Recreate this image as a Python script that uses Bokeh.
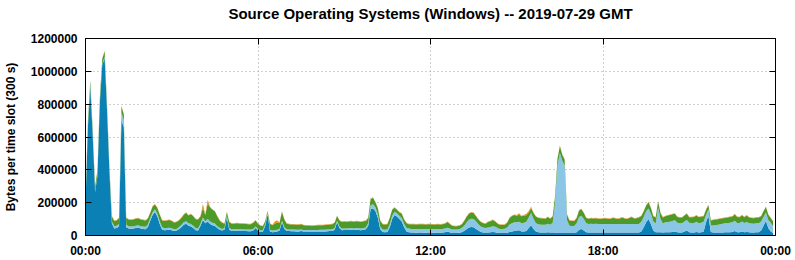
from bokeh.plotting import figure
from bokeh.models import ColumnDataSource, Range1d, LinearAxis, FixedTicker, NumeralTickFormatter
from bokeh.embed import file_html
from bokeh.resources import INLINE

TITLE = "Source Operating Systems (Windows) -- 2019-07-29 GMT"
Y_LABEL = "Bytes per time slot (300 s)"
SLOT_MINUTES = 5

# values in kilobytes per 5-minute slot (288 slots)
dark_blue = [
    190, 660, 905, 610, 265, 365, 810, 1040, 1080, 760, 385, 75, 42, 45, 55, 700, 660, 50, 42, 40, 42, 45, 48, 42,
    40, 38, 50, 90, 125, 143, 115, 70, 35, 32, 33, 35, 32, 28, 30, 38, 50, 65, 72, 60, 55, 45, 32, 30,
    60, 95, 75, 85, 70, 62, 58, 45, 35, 30, 35, 110, 35, 28, 28, 30, 28, 28, 27, 27, 26, 26, 30, 45,
    30, 22, 22, 60, 130, 25, 20, 22, 25, 30, 80, 40, 28, 27, 26, 26, 25, 25, 27, 24, 24, 24, 24, 24,
    24, 24, 25, 25, 25, 26, 27, 28, 35, 80, 45, 32, 33, 33, 34, 35, 33, 35, 34, 32, 35, 38, 60, 160,
    165, 150, 110, 40, 22, 20, 22, 50, 100, 125, 115, 100, 85, 50, 25, 20, 18, 18, 17, 18, 18, 17, 17, 18,
    18, 17, 17, 18, 17, 18, 20, 25, 20, 15, 15, 15, 16, 20, 28, 38, 48, 52, 50, 40, 30, 22, 18, 18,
    18, 20, 22, 20, 17, 15, 15, 15, 17, 22, 25, 28, 30, 32, 25, 25, 28, 45, 62, 40, 25, 20, 18, 18,
    18, 20, 18, 18, 18, 15, 15, 15, 15, 15, 15, 15, 15, 20, 35, 40, 30, 20, 18, 18, 18, 18, 18, 18,
    18, 18, 18, 18, 18, 18, 18, 18, 18, 18, 18, 18, 18, 18, 18, 18, 25, 50, 80, 100, 70, 30, 20, 20,
    20, 18, 20, 20, 20, 22, 25, 20, 18, 18, 25, 30, 20, 18, 18, 22, 18, 20, 25, 80, 120, 22, 18, 18,
    18, 18, 19, 20, 20, 20, 22, 28, 20, 20, 25, 20, 22, 20, 18, 18, 20, 20, 30, 60, 90, 45, 25, 15,
]
light_blue = [
    5, 5, 5, 5, 5, 5, 5, 5, 10, 10, 10, 10, 15, 15, 15, 50, 40, 15, 15, 15, 15, 15, 15, 15,
    15, 15, 15, 15, 17, 17, 17, 15, 15, 12, 12, 12, 12, 10, 10, 12, 14, 15, 15, 15, 15, 15, 14, 12,
    12, 15, 12, 15, 15, 15, 15, 12, 12, 10, 10, 10, 10, 10, 10, 10, 10, 10, 10, 10, 10, 10, 10, 10,
    10, 10, 10, 10, 8, 10, 10, 10, 10, 10, 10, 10, 10, 10, 10, 10, 10, 10, 10, 10, 10, 10, 10, 10,
    10, 10, 10, 10, 10, 10, 10, 10, 10, 10, 10, 10, 10, 10, 10, 10, 10, 10, 10, 10, 10, 10, 15, 25,
    25, 22, 20, 15, 15, 15, 15, 18, 20, 20, 20, 20, 22, 20, 20, 22, 22, 22, 22, 22, 22, 22, 22, 22,
    22, 22, 22, 22, 22, 22, 22, 22, 22, 22, 22, 22, 22, 25, 30, 40, 48, 50, 50, 45, 38, 33, 30, 28,
    30, 32, 35, 33, 28, 25, 25, 26, 32, 45, 50, 52, 50, 52, 50, 52, 55, 65, 75, 60, 50, 48, 48, 48,
    47, 52, 47, 60, 180, 410, 487, 440, 412, 78, 45, 43, 43, 55, 78, 80, 70, 55, 52, 54, 52, 54, 52, 52,
    52, 52, 52, 52, 52, 52, 52, 52, 52, 52, 52, 52, 52, 52, 52, 52, 58, 62, 68, 65, 62, 55, 53, 150,
    80, 55, 60, 62, 64, 66, 68, 58, 56, 56, 60, 65, 57, 57, 58, 62, 57, 58, 58, 45, 40, 40, 43, 45,
    47, 50, 52, 54, 55, 57, 58, 62, 56, 56, 60, 56, 60, 55, 55, 54, 55, 55, 55, 52, 50, 50, 52, 42,
]
green = [
    32, 32, 32, 32, 27, 27, 32, 32, 32, 27, 22, 32, 32, 32, 37, 37, 37, 42, 40, 40, 40, 42, 42, 40,
    39, 39, 37, 32, 35, 29, 35, 42, 42, 45, 47, 47, 45, 41, 42, 42, 43, 47, 52, 47, 60, 57, 53, 55,
    43, 57, 38, 95, 85, 80, 74, 60, 45, 37, 27, 22, 37, 34, 34, 35, 35, 34, 34, 33, 33, 33, 37, 37,
    32, 27, 25, 17, 10, 37, 32, 41, 42, 37, 54, 47, 34, 32, 31, 31, 30, 30, 32, 29, 27, 27, 26, 26,
    27, 28, 28, 28, 29, 29, 30, 31, 32, 29, 37, 40, 42, 40, 41, 42, 41, 42, 41, 40, 42, 41, 32, 37,
    40, 30, 37, 37, 32, 32, 32, 39, 37, 24, 22, 22, 25, 27, 30, 27, 28, 28, 28, 28, 29, 29, 28, 28,
    28, 28, 28, 28, 28, 29, 30, 35, 30, 22, 20, 20, 21, 22, 29, 34, 36, 38, 37, 32, 29, 27, 27, 26,
    34, 35, 37, 32, 27, 25, 24, 24, 28, 40, 44, 45, 40, 43, 42, 45, 41, 30, 30, 37, 40, 39, 39, 38,
    37, 40, 37, 39, 39, 42, 43, 37, 35, 34, 32, 31, 31, 32, 39, 40, 37, 32, 32, 33, 33, 33, 32, 31,
    33, 35, 32, 31, 37, 35, 31, 33, 39, 33, 31, 37, 42, 33, 35, 39, 36, 35, 34, 37, 35, 32, 36, 37,
    37, 36, 37, 40, 41, 41, 40, 34, 35, 35, 37, 38, 34, 36, 36, 38, 36, 37, 34, 32, 25, 30, 33, 34,
    34, 34, 34, 33, 34, 35, 35, 39, 36, 35, 39, 35, 40, 34, 34, 33, 34, 34, 32, 35, 33, 32, 30, 28,
]
orange = [
    3, 3, 3, 3, 3, 3, 3, 3, 3, 3, 3, 3, 3, 3, 3, 3, 3, 3, 3, 3, 3, 3, 3, 3,
    3, 3, 3, 3, 3, 3, 3, 3, 3, 3, 3, 3, 3, 3, 3, 3, 3, 3, 3, 3, 3, 3, 3, 3,
    5, 25, 5, 22, 5, 3, 3, 3, 3, 3, 3, 3, 3, 3, 3, 3, 3, 3, 3, 3, 3, 3, 3, 3,
    3, 3, 3, 3, 3, 3, 3, 12, 15, 3, 3, 3, 3, 3, 3, 3, 3, 3, 3, 3, 3, 3, 3, 3,
    3, 3, 3, 3, 3, 3, 3, 3, 3, 3, 3, 3, 3, 3, 3, 3, 3, 3, 3, 3, 3, 3, 3, 3,
    3, 3, 3, 3, 3, 3, 3, 3, 3, 3, 3, 3, 3, 3, 3, 3, 3, 3, 3, 3, 3, 3, 3, 3,
    3, 3, 3, 3, 3, 3, 3, 3, 3, 3, 3, 3, 3, 3, 3, 3, 3, 3, 3, 3, 3, 3, 3, 3,
    3, 3, 3, 3, 3, 3, 3, 3, 3, 3, 3, 3, 5, 8, 3, 3, 8, 10, 8, 3, 3, 3, 3, 3,
    3, 3, 3, 3, 3, 3, 3, 3, 3, 3, 3, 3, 3, 3, 3, 3, 3, 3, 3, 3, 3, 3, 3, 3,
    3, 3, 3, 3, 3, 3, 3, 3, 3, 3, 3, 3, 3, 3, 3, 3, 3, 3, 3, 3, 3, 3, 3, 3,
    3, 3, 3, 3, 3, 3, 3, 3, 3, 3, 3, 3, 3, 3, 3, 3, 3, 3, 3, 3, 3, 3, 3, 3,
    3, 3, 3, 3, 3, 3, 3, 3, 3, 3, 3, 3, 3, 3, 3, 3, 3, 3, 3, 3, 3, 3, 3, 3,
]

series_names = ["dark_blue", "light_blue", "green", "orange"]
series_colors = ["#0a80b4", "#8cc6e6", "#4c9a2a", "#e8901a"]

x_tick_hours = [0, 6, 12, 18, 24]
x_tick_labels = ["00:00", "06:00", "12:00", "18:00", "00:00"]
y_ticks = [0, 200000, 400000, 600000, 800000, 1000000, 1200000]

FONT = "Liberation Sans"

data = {
    "x": [i * SLOT_MINUTES / 60 for i in range(len(dark_blue))],
    "dark_blue": [v * 1000 for v in dark_blue],
    "light_blue": [v * 1000 for v in light_blue],
    "green": [v * 1000 for v in green],
    "orange": [v * 1000 for v in orange],
}
src = ColumnDataSource(data)

p = figure(width=795, height=260, output_backend="svg", toolbar_location=None,
           x_range=Range1d(0, 24), y_range=Range1d(0, 1200000),
           min_border_left=81, min_border_right=20, min_border_top=38, min_border_bottom=25)
p.background_fill_color = "white"
p.border_fill_color = "white"
p.outline_line_color = "black"
p.outline_line_width = 1

p.varea_stack(stackers=series_names, x="x", color=series_colors, source=src)

xt = FixedTicker(ticks=x_tick_hours)
yt = FixedTicker(ticks=y_ticks)

xa = p.xaxis[0]
xa.ticker = xt
xa.major_label_overrides = {h: lbl for h, lbl in zip(x_tick_hours, x_tick_labels)}
ya = p.yaxis[0]
ya.ticker = yt
ya.formatter = NumeralTickFormatter(format="0")
ya.axis_label = Y_LABEL

for ax in (xa, ya):
    ax.major_tick_in = 6
    ax.major_tick_out = 0
    ax.minor_tick_line_color = None
    ax.axis_line_color = "black"
    ax.major_tick_line_color = "black"
    ax.major_label_text_font = FONT
    ax.major_label_text_font_size = "12px"
    ax.major_label_text_font_style = "bold"
    ax.major_label_text_color = "black"
    ax.axis_label_text_font = FONT
    ax.axis_label_text_font_size = "12px"
    ax.axis_label_text_font_style = "bold"
    ax.axis_label_text_color = "black"
xa.major_label_standoff = 8
ya.major_label_standoff = 8
ya.axis_label_standoff = 10

# mirrored ticks on right and top; the top axis carries the chart title
ra = LinearAxis(ticker=FixedTicker(ticks=y_ticks[1:-1]), major_tick_in=6, major_tick_out=0,
                minor_tick_line_color=None, major_label_text_alpha=0, major_label_text_font_size="1px",
                axis_line_color="black")
p.add_layout(ra, "right")
ta = LinearAxis(ticker=FixedTicker(ticks=x_tick_hours[1:-1]), major_tick_in=6, major_tick_out=0,
                minor_tick_line_color=None, major_label_text_alpha=0, major_label_text_font_size="1px",
                major_label_standoff=0, axis_line_color="black",
                axis_label=TITLE, axis_label_standoff=17,
                axis_label_text_font=FONT, axis_label_text_font_size="15px",
                axis_label_text_font_style="bold", axis_label_text_color="black")
p.add_layout(ta, "above")

p.xgrid.ticker = FixedTicker(ticks=x_tick_hours[1:-1])
p.ygrid.ticker = FixedTicker(ticks=y_ticks[1:-1])
for g in (p.xgrid[0], p.ygrid[0]):
    g.grid_line_color = "#a0a0a0"
    g.grid_line_dash = "1 3"
    g.grid_line_width = 1

open("out.html", "w").write(file_html(p, INLINE))
